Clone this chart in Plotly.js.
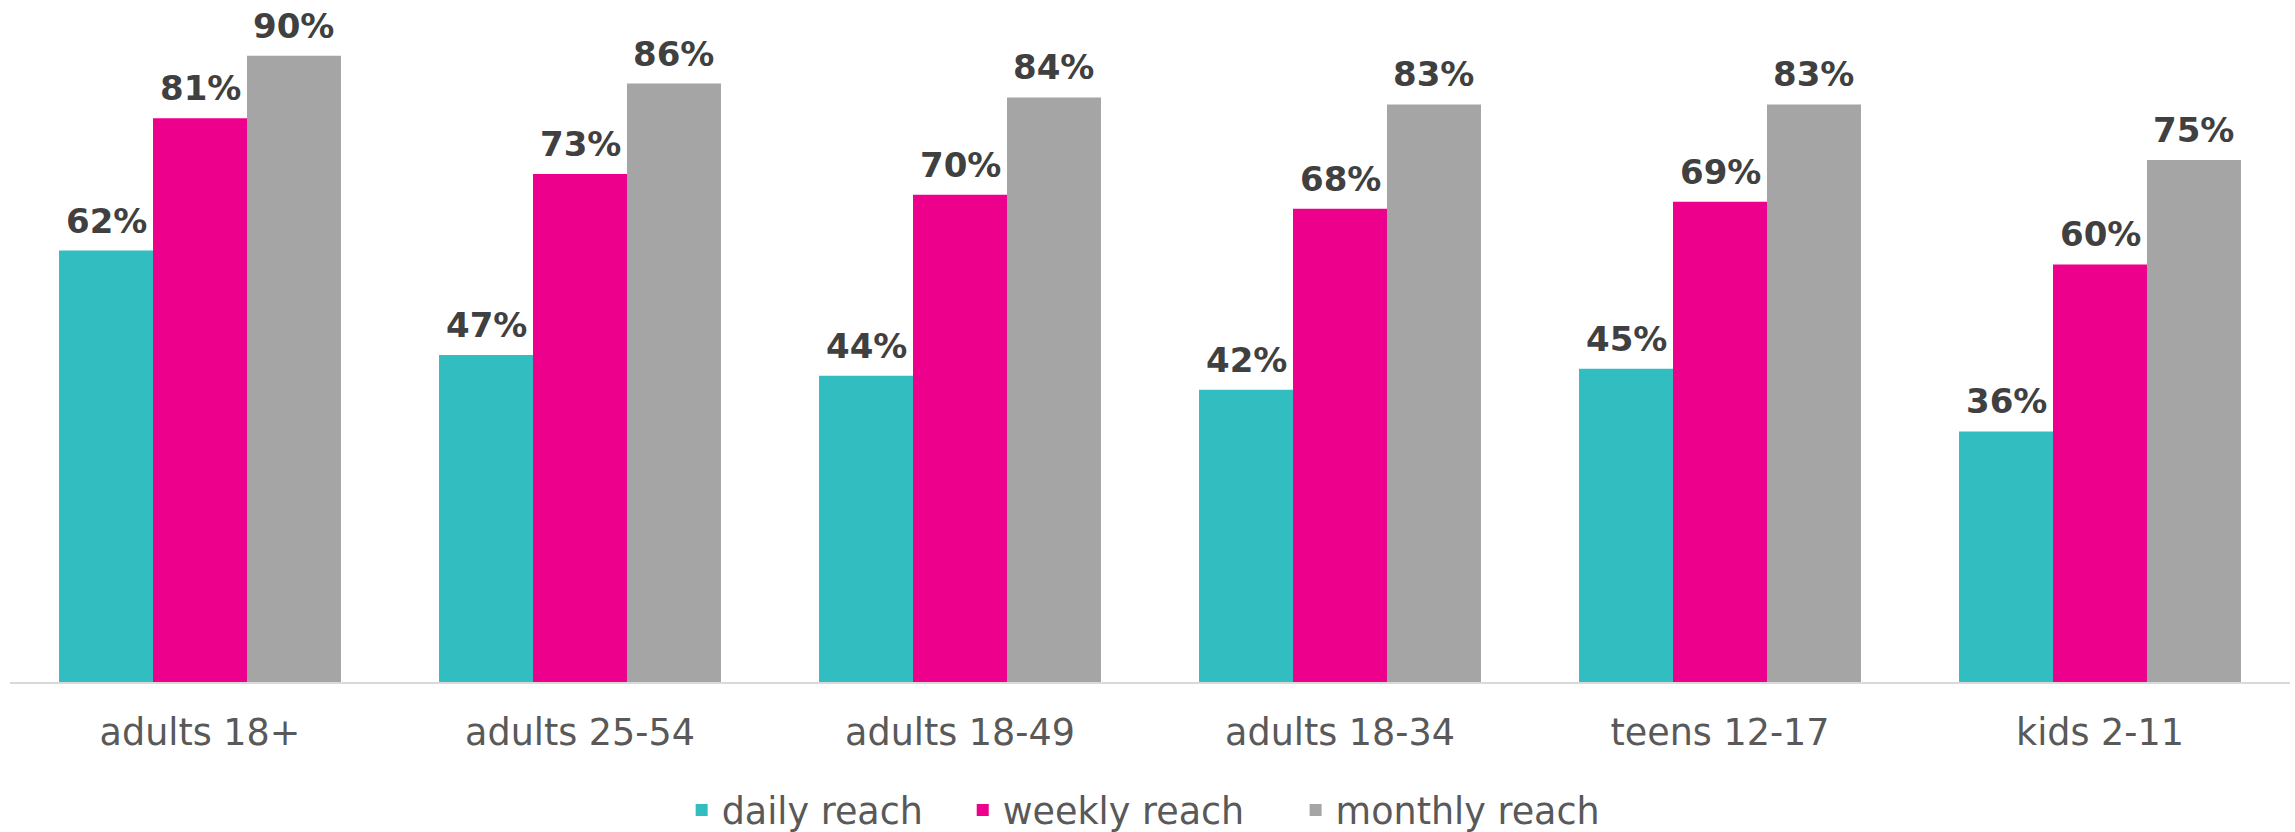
<!DOCTYPE html>
<html><head><meta charset="utf-8">
<script src="https://cdn.plot.ly/plotly-3.0.1.min.js"></script>
<style>html,body{margin:0;padding:0;background:#fff;} #chart{width:2295px;height:832px;}</style>
</head><body><div id="chart"></div>
<script>
const categories = ["adults 18+", "adults 25-54", "adults 18-49", "adults 18-34", "teens 12-17", "kids 2-11"];
const seriesNames = ["daily reach", "weekly reach", "monthly reach"];
const dailyReach = [62, 47, 44, 42, 45, 36];
const weeklyReach = [81, 73, 70, 68, 69, 60];
const monthlyReach = [90, 86, 84, 83, 83, 75];
const seriesColors = ["#32BEC1", "#EC008C", "#A5A5A5"];

const seriesValues = [dailyReach, weeklyReach, monthlyReach];
const BARGAP = 0.258;
const nS = seriesValues.length;
const barW = (1 - BARGAP) / nS;
const legendPads = ['\u00a0\u00a0\u00a0', '\u00a0\u00a0\u00a0\u00a0', ''];

const traces = seriesValues.map((vals, i) => ({
  type: 'bar', x: categories, y: vals,
  name: seriesNames[i] + legendPads[i],
  marker: {color: seriesColors[i]},
  hoverinfo: 'skip'
}));

const annotations = [];
seriesValues.forEach((vals, i) => vals.forEach((v, j) => annotations.push({
  x: j + (i - (nS - 1) / 2) * barW, y: v, xref: 'x', yref: 'y',
  text: v + '%', showarrow: false, xanchor: 'center', yanchor: 'bottom', yshift: 8,
  font: {family: 'DejaVu Sans', size: 34, color: '#404040', weight: 'bold'}
})));

const layout = {
  width: 2295, height: 832,
  margin: {l: 10, r: 5, t: 0, b: 150, autoexpand: false},
  paper_bgcolor: '#ffffff', plot_bgcolor: '#ffffff',
  barmode: 'group', bargap: BARGAP, bargroupgap: 0,
  font: {family: 'DejaVu Sans', color: '#595959'},
  xaxis: {type: 'category', showline: true, linecolor: '#D9D9D9', linewidth: 2, ticks: '',
          tickfont: {family: 'DejaVu Sans', size: 36.5, color: '#595959'}, ticklabelstandoff: 17,
          showgrid: false, zeroline: false, fixedrange: true, automargin: false},
  yaxis: {range: [0, 98], visible: false, showgrid: false, zeroline: false, fixedrange: true},
  showlegend: true,
  legend: {orientation: 'h', x: 0.497, xanchor: 'center', y: -0.188, yanchor: 'middle',
           font: {family: 'DejaVu Sans', size: 36.5, color: '#595959'}},
  annotations: annotations,
  hovermode: false
};

Plotly.newPlot('chart', traces, layout, {displayModeBar: false, staticPlot: true});
</script>
</body></html>
